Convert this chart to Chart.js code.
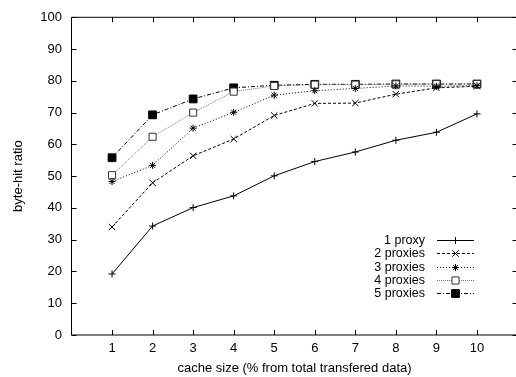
<!DOCTYPE html>
<html>
<head>
  <title>Byte-hit ratio vs cache size</title>
  <script src="https://cdn.jsdelivr.net/npm/chart.js@4.4.1/dist/chart.umd.min.js"></script>
  <style>
    html, body { margin: 0; padding: 0; overflow: hidden; background: #fff; }
  </style>
</head>
<body>
  <canvas id="hitChart" width="532" height="377"></canvas>

  <script>
    // cache size in % of transferred data
    const cacheSizes = [1, 2, 3, 4, 5, 6, 7, 8, 9, 10];
    const yTicks = [0, 10, 20, 30, 40, 50, 60, 70, 80, 90, 100];
    const seriesNames = ['1 proxy', '2 proxies', '3 proxies', '4 proxies', '5 proxies'];

    const proxy1 = [19.2, 34.3, 40.1, 43.8, 50.1, 54.6, 57.6, 61.3, 63.8, 69.6];
    const proxy2 = [34.0, 47.9, 56.4, 61.7, 69.1, 72.9, 73.0, 75.8, 77.8, 78.3];
    const proxy3 = [48.3, 53.4, 65.1, 70.1, 75.5, 76.9, 77.6, 78.4, 78.3, 78.5];
    const proxy4 = [50.3, 62.4, 70.0, 76.6, 78.4, 78.8, 78.8, 78.9, 79.0, 79.0];
    const proxy5 = [55.8, 69.3, 74.3, 77.8, 78.6, 78.9, 78.9, 79.0, 79.0, 79.0];

    const FAMILY = '"Liberation Sans", Arial, sans-serif';
    const FONT = { family: FAMILY, size: 13 };
    const KEY_FONT = '12.5px ' + FAMILY;

    function pts(values) {
      return values.map((v, i) => ({ x: cacheSizes[i], y: v }));
    }

    // gnuplot-like line / point styles
    const styles = [
      { dash: [], color: '#000', point: 'cross', radius: 3.5, fill: '#000', border: '#000' },
      { dash: [3, 2], color: '#000', point: 'crossRot', radius: 4.5, fill: '#000', border: '#000' },
      { dash: [1, 2], color: '#000', point: 'star', radius: 3.5, fill: '#000', border: '#000' },
      { dash: [1, 1], color: '#777', point: 'rect', radius: 5, fill: '#fff', border: '#333' },
      { dash: [4, 2, 1, 2], color: '#000', point: 'rect', radius: 5.5, fill: '#000', border: '#000' }
    ];
    const allValues = [proxy1, proxy2, proxy3, proxy4, proxy5];

    const datasets = allValues.map((vals, i) => ({
      label: seriesNames[i],
      data: pts(vals),
      borderColor: styles[i].color,
      borderWidth: 1,
      borderDash: styles[i].dash,
      pointStyle: styles[i].point,
      pointRadius: styles[i].radius,
      pointBorderWidth: 1,
      pointBorderColor: styles[i].border,
      pointBackgroundColor: styles[i].fill,
      tension: 0,
      fill: false
    }));

    // box + inward ticks on all four sides, and the gnuplot style key
    const framePlugin = {
      id: 'frame',
      afterDraw(chart) {
        const ctx = chart.ctx;
        const a = chart.chartArea;
        const xs = chart.scales.x, ys = chart.scales.y;
        const tl = 5;
        ctx.save();
        ctx.strokeStyle = '#000';
        ctx.lineWidth = 1;
        ctx.setLineDash([]);
        ctx.beginPath();
        ctx.rect(a.left, a.top, a.right - a.left, a.bottom - a.top);
        yTicks.forEach(v => {
          const y = Math.round(ys.getPixelForValue(v)) + 0.5;
          ctx.moveTo(a.left, y); ctx.lineTo(a.left + tl, y);
          ctx.moveTo(a.right, y); ctx.lineTo(a.right - tl, y);
        });
        cacheSizes.forEach(v => {
          const x = Math.round(xs.getPixelForValue(v)) + 0.5;
          ctx.moveTo(x, a.bottom); ctx.lineTo(x, a.bottom - tl);
          ctx.moveTo(x, a.top); ctx.lineTo(x, a.top + tl);
        });
        ctx.stroke();

        // key
        const textRight = 425, lineL = 437, lineR = 474, y0 = 240, dy = 13.3;
        ctx.font = KEY_FONT;
        ctx.fillStyle = '#000';
        ctx.textAlign = 'right';
        ctx.textBaseline = 'middle';
        seriesNames.forEach((name, i) => {
          const y = Math.round(y0 + i * dy) + 0.5;
          const st = styles[i];
          ctx.fillText(name, textRight, y);
          ctx.beginPath();
          ctx.strokeStyle = st.color;
          ctx.setLineDash(st.dash);
          ctx.moveTo(lineL, y); ctx.lineTo(lineR, y);
          ctx.stroke();
          ctx.setLineDash([]);
          ctx.strokeStyle = st.border;
          ctx.fillStyle = st.fill;
          Chart.helpers.drawPoint(ctx, { pointStyle: st.point, radius: st.radius, borderWidth: 1 }, (lineL + lineR) / 2, y);
          ctx.fillStyle = '#000';
        });
        ctx.restore();
      }
    };

    const ctx = document.getElementById('hitChart').getContext('2d');
    new Chart(ctx, {
      type: 'line',
      data: { datasets: datasets },
      plugins: [framePlugin],
      options: {
        responsive: false,
        animation: false,
        devicePixelRatio: 1,
        layout: { padding: { left: 0, right: 14.5, top: 15, bottom: 0 } },
        plugins: { legend: { display: false }, tooltip: { enabled: false } },
        scales: {
          x: {
            type: 'linear',
            min: 0,
            max: 11,
            afterBuildTicks: s => { s.ticks = cacheSizes.map(v => ({ value: v })); },
            afterFit: s => { s.height = 42; },
            grid: { display: false, drawTicks: false },
            border: { display: false },
            ticks: { color: '#000', font: FONT, padding: 6, maxRotation: 0, autoSkip: false },
            title: { display: true, text: 'cache size (% from total transfered data)', color: '#000', font: FONT, padding: { top: 0, bottom: 1 } }
          },
          y: {
            min: 0,
            max: 100,
            afterBuildTicks: s => { s.ticks = yTicks.map(v => ({ value: v })); },
            afterFit: s => { s.width = 71.5; },
            grid: { display: false, drawTicks: false },
            border: { display: false },
            ticks: { color: '#000', font: FONT, padding: 9.5 },
            title: { display: true, text: 'byte-hit ratio', color: '#000', font: FONT, padding: { top: 11, bottom: 0 } }
          }
        }
      }
    });
  </script>
</body>
</html>
